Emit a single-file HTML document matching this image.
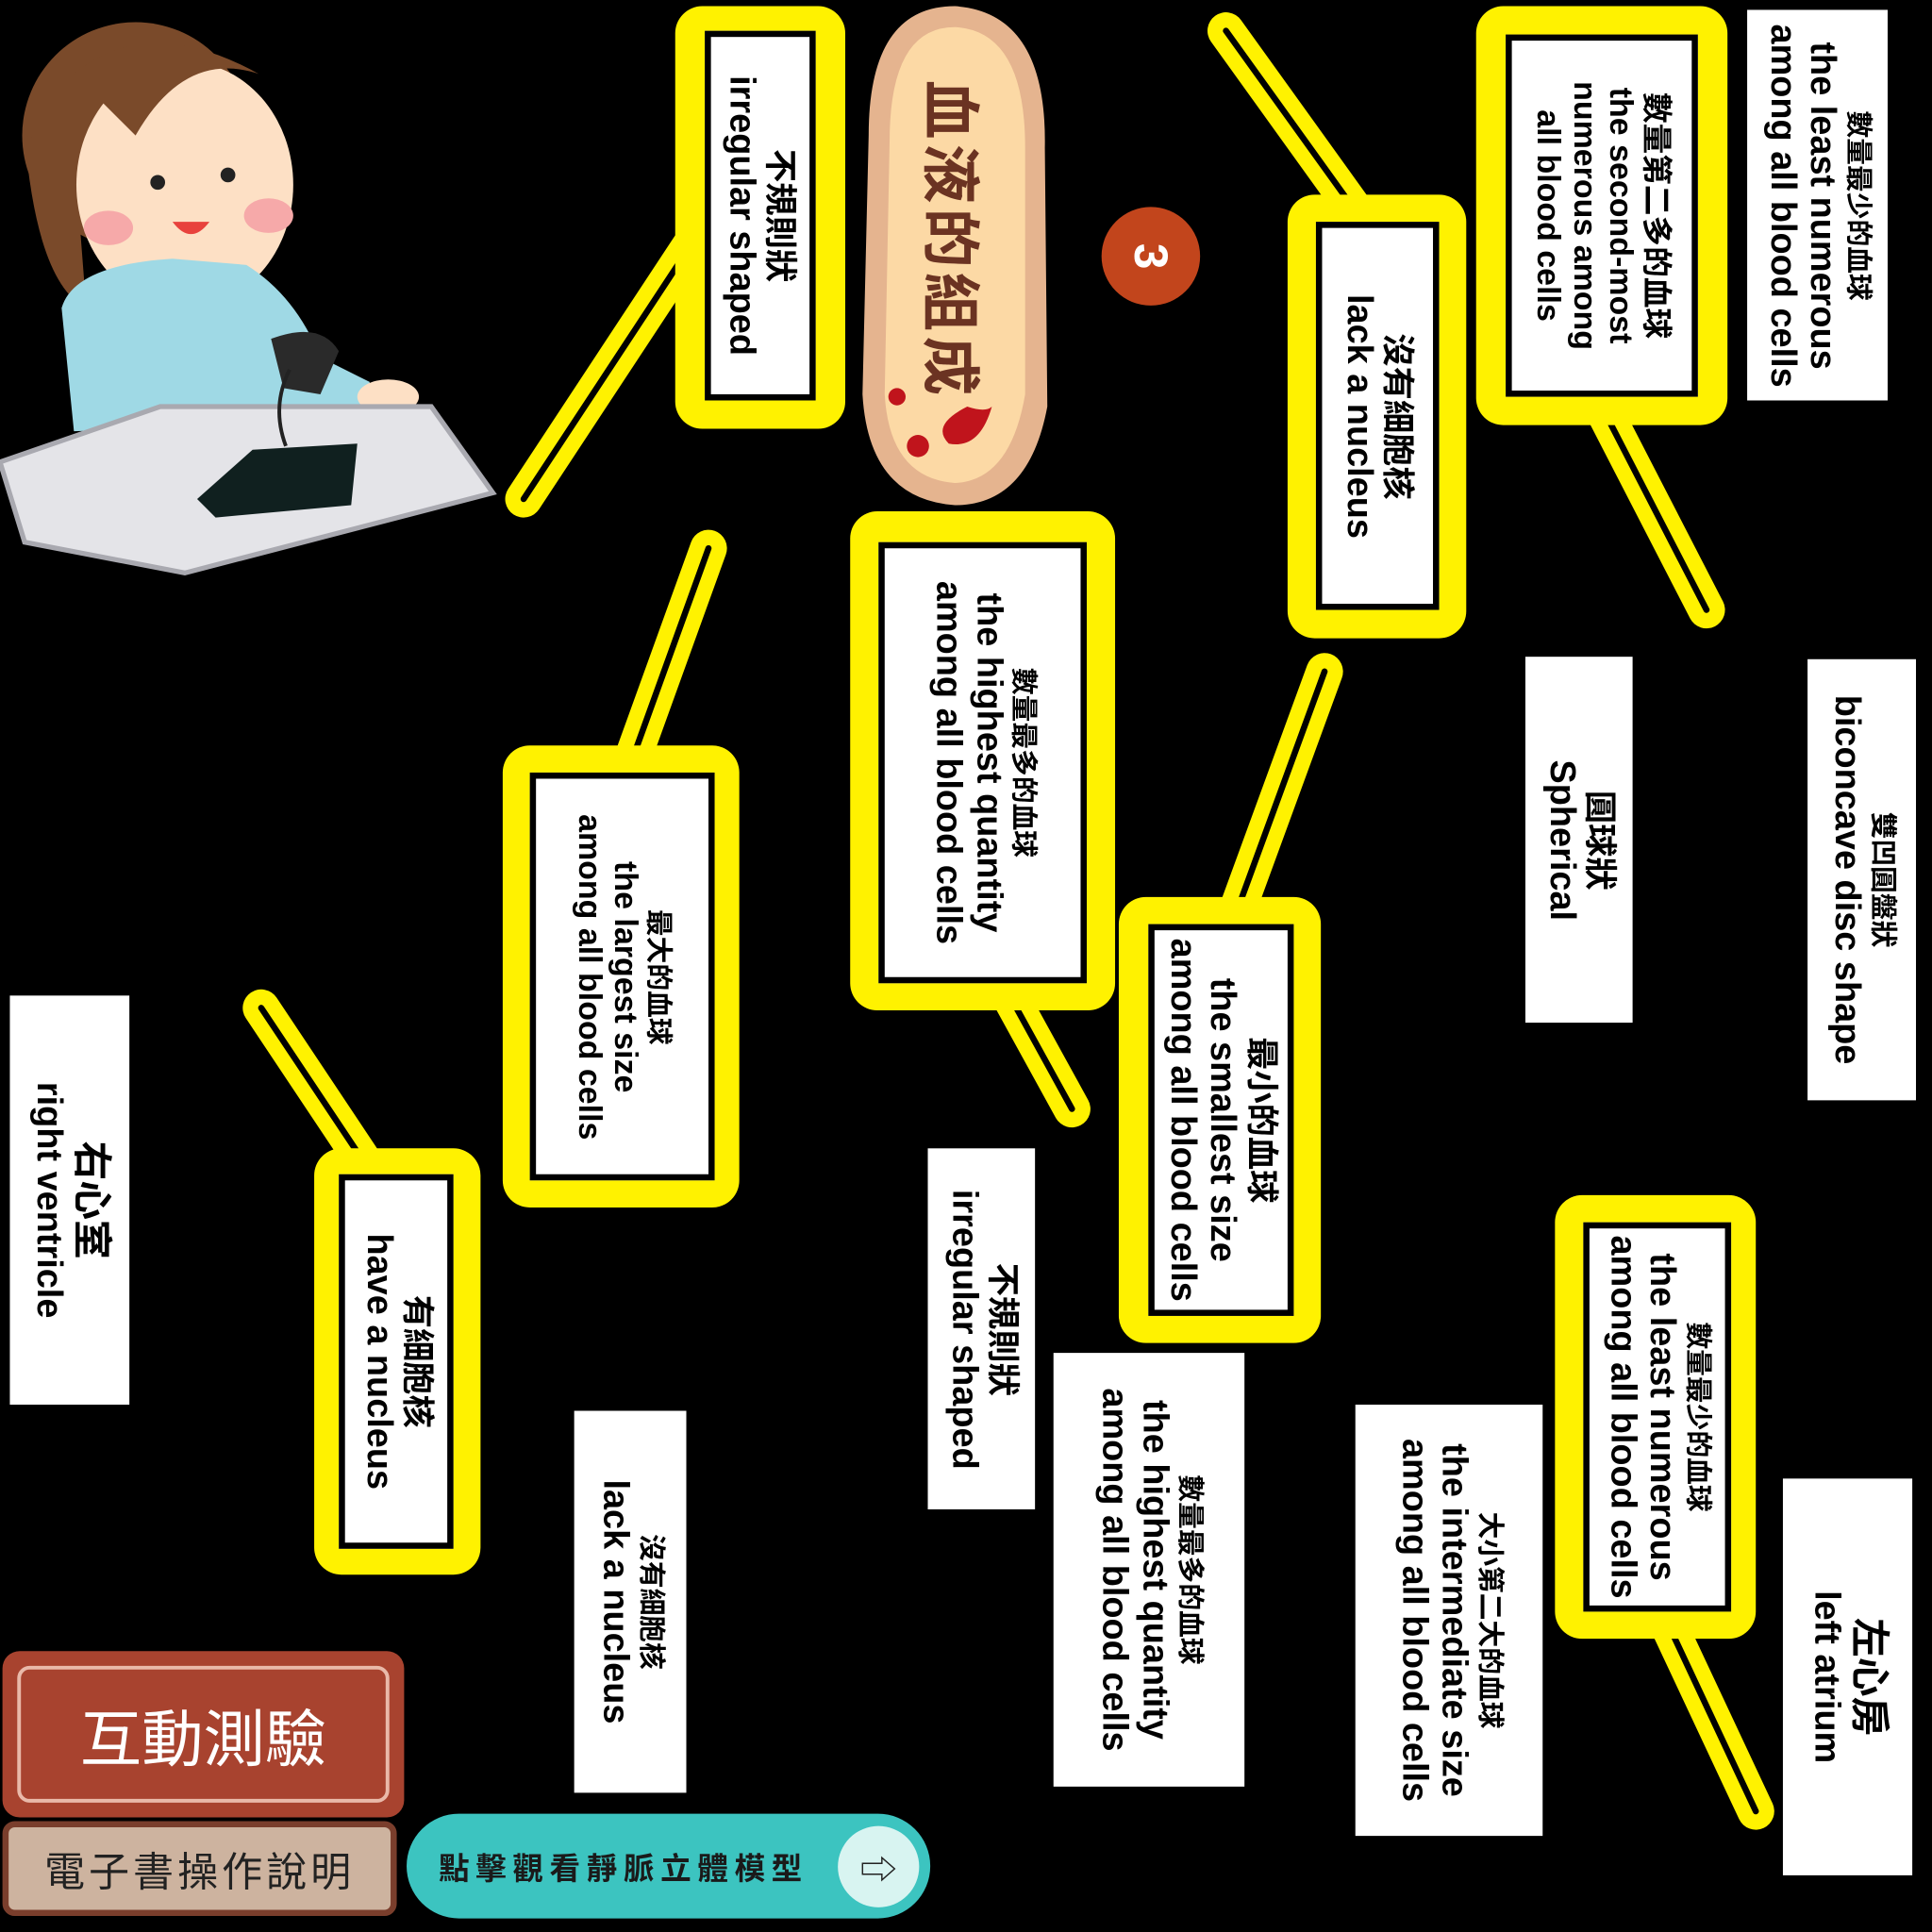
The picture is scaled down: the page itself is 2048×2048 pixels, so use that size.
<!DOCTYPE html>
<html><head><meta charset="utf-8"><style>
html,body{margin:0;padding:0;background:#000;width:2048px;height:2048px;overflow:hidden}
#c{position:absolute;left:0;top:0;width:1568px;height:1568px;transform:scale(1.30612);transform-origin:0 0;font-family:"Liberation Sans","Noto Sans CJK TC",sans-serif}
.a{position:absolute}
.w{position:absolute;background:#fff}
.y{position:absolute;background:#fff200;border-radius:22px}
.k{position:absolute;background:#fff;border:5px solid #000;box-sizing:border-box}
.t{position:absolute;left:50%;top:50%;transform:translate(-50%,-50%) rotate(90deg);display:flex;flex-direction:column;align-items:center;justify-content:center;text-align:center;color:#000;line-height:1.12}
.cn{font-weight:bold;font-size:27px}
.cs{font-weight:bold;font-size:22px}
.en{font-size:29px;font-weight:bold;white-space:nowrap}
.sm{font-size:26px}
</style></head><body><div id="c">
<svg class="a" style="left:0;top:0" width="1568" height="1568">
<g stroke-linecap="round">
<line x1="560" y1="200" x2="425" y2="405" stroke="#fff200" stroke-width="30"/><line x1="560" y1="200" x2="425" y2="405" stroke="#000" stroke-width="5"/>
<line x1="995" y1="25" x2="1110" y2="185" stroke="#fff200" stroke-width="30"/><line x1="995" y1="25" x2="1110" y2="185" stroke="#000" stroke-width="5"/>
<line x1="1300" y1="330" x2="1385" y2="495" stroke="#fff200" stroke-width="30"/><line x1="1300" y1="330" x2="1385" y2="495" stroke="#000" stroke-width="5"/>
<line x1="575" y1="445" x2="510" y2="625" stroke="#fff200" stroke-width="30"/><line x1="575" y1="445" x2="510" y2="625" stroke="#000" stroke-width="5"/>
<line x1="815" y1="800" x2="870" y2="900" stroke="#fff200" stroke-width="30"/><line x1="815" y1="800" x2="870" y2="900" stroke="#000" stroke-width="5"/>
<line x1="1075" y1="545" x2="1000" y2="750" stroke="#fff200" stroke-width="30"/><line x1="1075" y1="545" x2="1000" y2="750" stroke="#000" stroke-width="5"/>
<line x1="212" y1="818" x2="300" y2="950" stroke="#fff200" stroke-width="30"/><line x1="212" y1="818" x2="300" y2="950" stroke="#000" stroke-width="5"/>
<line x1="1350" y1="1310" x2="1425" y2="1470" stroke="#fff200" stroke-width="30"/><line x1="1350" y1="1310" x2="1425" y2="1470" stroke="#000" stroke-width="5"/>
</g>
<circle cx="110" cy="110" r="92" fill="#7a4a2a"/>
<path d="M20 110 Q30 230 70 250 L60 120Z" fill="#7a4a2a"/>
<ellipse cx="150" cy="150" rx="88" ry="100" fill="#fde0c5"/>
<path d="M60 60 Q120 10 210 60 Q150 40 110 110 Z" fill="#7a4a2a"/>
<circle cx="128" cy="148" r="6" fill="#222"/><circle cx="185" cy="142" r="6" fill="#222"/>
<ellipse cx="88" cy="185" rx="20" ry="14" fill="#f6a9a9"/><ellipse cx="218" cy="175" rx="20" ry="14" fill="#f6a9a9"/>
<path d="M140 180 Q155 200 170 180 Z" fill="#e8423d"/>
<path d="M50 250 Q60 215 140 210 L200 215 Q240 240 260 290 L300 310 L300 335 L210 345 L60 350 Z" fill="#9fd9e5"/>
<path d="M220 275 Q260 260 275 285 L260 320 L230 315Z" fill="#2a2a2a"/>
<ellipse cx="315" cy="322" rx="25" ry="14" fill="#fde0c5"/>
<path d="M0 375 L130 330 L350 330 L400 400 L150 465 L20 440 Z" fill="#e4e4e8" stroke="#a9a9b0" stroke-width="4"/>
<path d="M160 405 L205 365 L290 360 L285 410 L175 420Z" fill="#10201f"/>
<path d="M235 300 Q220 330 232 362" stroke="#222" stroke-width="3" fill="none"/>
<path d="M775 5 Q850 10 848 120 L850 330 Q835 410 775 410 Q705 405 700 320 L705 110 Q705 5 775 5Z" fill="#e5b48f"/>
<path d="M775 22 Q832 25 832 120 L832 320 Q820 390 775 392 Q722 388 718 320 L722 115 Q722 22 775 22Z" fill="#fcd9a5"/>
<path d="M785 330 Q800 335 805 330 Q795 365 770 360 Q755 345 785 330Z" fill="#c0141c"/>
<circle cx="745" cy="362" r="9" fill="#c0141c"/><circle cx="728" cy="322" r="7" fill="#c0141c"/>
<circle cx="934" cy="208" r="40" fill="#c2451c"/>
<text x="934" y="208" transform="rotate(90 934 208)" text-anchor="middle" dominant-baseline="central" fill="#fff" font-size="38" font-weight="bold" font-family="Liberation Sans">3</text>
<text x="775" y="195" transform="rotate(90 775 195)" text-anchor="middle" dominant-baseline="central" fill="#6b3322" font-size="48" font-weight="bold" font-family="Noto Sans CJK TC" letter-spacing="4">血液的組成</text>
</svg>

<div class="y" style="left:548px;top:5px;width:138px;height:343px"></div><div class="k" style="left:572px;top:25px;width:90px;height:300px"><div class="t" style="width:300px;height:90px"><span class="cn">不規則狀</span><span class="en">irregular shaped</span></div></div>

<div class="y" style="left:1045px;top:158px;width:145px;height:360px"></div><div class="k" style="left:1068px;top:180px;width:100px;height:315px"><div class="t" style="width:315px;height:100px"><span class="cn">沒有細胞核</span><span class="en">lack a nucleus</span></div></div>

<div class="y" style="left:1198px;top:5px;width:204px;height:340px"></div><div class="k" style="left:1222px;top:28px;width:156px;height:294px"><div class="t" style="width:294px;height:156px"><span class="cn" style="font-size:25px">數量第二多的血球</span><span class="en sm">the second-most<br>numerous among<br>all blood cells</span></div></div>

<div class="w" style="left:1418px;top:8px;width:114px;height:317px"><div class="t" style="width:317px;height:114px"><span class="cs">數量最少的血球</span><span class="en">the least numerous<br>among all blood cells</span></div></div>

<div class="y" style="left:408px;top:605px;width:192px;height:375px"></div><div class="k" style="left:430px;top:627px;width:150px;height:331px"><div class="t" style="width:331px;height:150px"><span class="cs">最大的血球</span><span class="en sm">the largest size<br>among all blood cells</span></div></div>

<div class="y" style="left:690px;top:415px;width:215px;height:405px"></div><div class="k" style="left:713px;top:440px;width:169px;height:358px"><div class="t" style="width:358px;height:169px"><span class="cs">數量最多的血球</span><span class="en">the highest quantity<br>among all blood cells</span></div></div>

<div class="y" style="left:908px;top:728px;width:164px;height:362px"></div><div class="k" style="left:932px;top:750px;width:118px;height:318px"><div class="t" style="width:318px;height:118px"><span class="cn">最小的血球</span><span class="en">the smallest size<br>among all blood cells</span></div></div>

<div class="w" style="left:1238px;top:533px;width:87px;height:297px"><div class="t" style="width:297px;height:87px"><span class="cn">圓球狀</span><span class="en">Spherical</span></div></div>

<div class="w" style="left:1467px;top:535px;width:88px;height:358px"><div class="t" style="width:358px;height:88px"><span class="cs">雙凹圓盤狀</span><span class="en">biconcave disc shape</span></div></div>

<div class="w" style="left:8px;top:808px;width:97px;height:332px"><div class="t" style="width:332px;height:97px"><span class="cn" style="font-size:32px">右心室</span><span class="en">right ventricle</span></div></div>

<div class="y" style="left:255px;top:932px;width:135px;height:346px"></div><div class="k" style="left:275px;top:953px;width:93px;height:304px"><div class="t" style="width:304px;height:93px"><span class="cn">有細胞核</span><span class="en">have a nucleus</span></div></div>

<div class="w" style="left:753px;top:932px;width:87px;height:293px"><div class="t" style="width:293px;height:87px"><span class="cn">不規則狀</span><span class="en">irregular shaped</span></div></div>

<div class="w" style="left:855px;top:1098px;width:155px;height:352px"><div class="t" style="width:352px;height:155px"><span class="cs">數量最多的血球</span><span class="en">the highest quantity<br>among all blood cells</span></div></div>

<div class="w" style="left:466px;top:1145px;width:91px;height:310px"><div class="t" style="width:310px;height:91px"><span class="cs">沒有細胞核</span><span class="en">lack a nucleus</span></div></div>

<div class="y" style="left:1262px;top:970px;width:163px;height:360px"></div><div class="k" style="left:1285px;top:992px;width:120px;height:316px"><div class="t" style="width:316px;height:120px"><span class="cs">數量最少的血球</span><span class="en">the least numerous<br>among all blood cells</span></div></div>

<div class="w" style="left:1100px;top:1140px;width:152px;height:350px"><div class="t" style="width:350px;height:152px"><span class="cs">大小第二大的血球</span><span class="en">the intermediate size<br>among all blood cells</span></div></div>

<div class="w" style="left:1447px;top:1200px;width:105px;height:322px"><div class="t" style="width:322px;height:105px"><span class="cn" style="font-size:32px">左心房</span><span class="en">left atrium</span></div></div>

<div class="a" style="left:2px;top:1340px;width:326px;height:135px;background:#a8432f;border-radius:14px"></div>
<div class="a" style="left:14px;top:1352px;width:302px;height:111px;border:3px solid #e9b9a9;border-radius:10px;box-sizing:border-box;color:#fff;font-size:50px;display:flex;align-items:center;justify-content:center;font-family:'Noto Sans CJK TC',sans-serif">互動測驗</div>
<div class="a" style="left:2px;top:1478px;width:320px;height:77px;background:#cdb39f;border:5px solid #7a3e2c;border-radius:10px;box-sizing:border-box;color:#222;font-size:33px;display:flex;align-items:center;justify-content:center;letter-spacing:3px;font-family:'Noto Sans CJK TC',sans-serif">電子書操作說明</div>
<div class="a" style="left:330px;top:1472px;width:425px;height:85px;background:#3cc4c0;border-radius:43px"></div>
<div class="a" style="left:356px;top:1472px;width:320px;height:85px;display:flex;align-items:center;font-size:25px;letter-spacing:5px;font-weight:bold;color:#1a1a1a;font-family:'Noto Sans CJK TC',sans-serif">點擊觀看靜脈立體模型</div>
<div class="a" style="left:680px;top:1482px;width:66px;height:66px;border-radius:33px;background:#d8f4f1;display:flex;align-items:center;justify-content:center;font-size:30px;color:#222">⇨</div>
</div></body></html>
